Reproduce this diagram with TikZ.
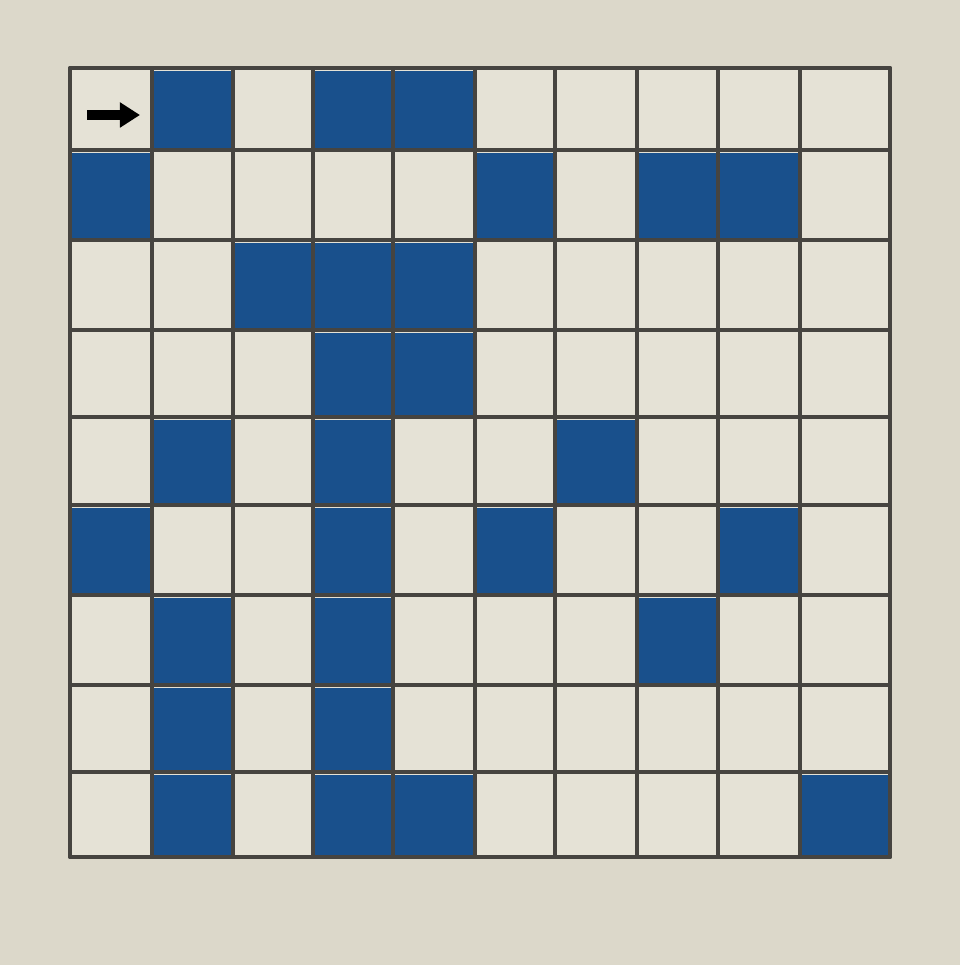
\documentclass[tikz,border=0pt]{standalone}
\usetikzlibrary{arrows.meta}
\definecolor{paper}{RGB}{220,216,202}
\definecolor{cellpaper}{RGB}{229,226,214}
\definecolor{tileblue}{RGB}{25,80,140}
\definecolor{gridgray}{RGB}{70,68,64}
\begin{document}
\begin{tikzpicture}[x=0.025cm,y=-0.025cm,
  gridline/.style={draw=gridgray,line width=2.7pt,line cap=round},
  tile/.style={fill=tileblue},
  pointer/.style={-{Triangle[length=0.5cm,width=0.6cm]},line width=6.5pt,black}]
\fill[paper] (0,0) rectangle (960,965);
\useasboundingbox (0,0) rectangle (960,965);
\fill[cellpaper] (70,68) rectangle (890,857);
\def\xs{{70,152,233,313,393,475,555,637,718,800,890}}
\def\ys{{68,150,240,330,417,505,595,685,772,857}}
% blue tiles (row/column)
\foreach \r/\c in {0/1,0/3,0/4,
  1/0,1/5,1/7,1/8,
  2/2,2/3,2/4,
  3/3,3/4,
  4/1,4/3,4/6,
  5/0,5/3,5/5,5/8,
  6/1,6/3,6/7,
  7/1,7/3,
  8/1,8/3,8/4,8/9} {
  \pgfmathsetmacro\xa{\xs[\c]+2}
  \pgfmathsetmacro\xb{\xs[\c+1]-2}
  \pgfmathsetmacro\ya{\ys[\r]+3}
  \pgfmathsetmacro\yb{\ys[\r+1]-2}
  \fill[tile] (\xa,\ya) rectangle (\xb,\yb);
}
% grid
\foreach \i in {0,...,10} {
  \pgfmathsetmacro\gx{\xs[\i]}
  \draw[gridline] (\gx,68) -- (\gx,857);
}
\foreach \j in {0,...,9} {
  \pgfmathsetmacro\gy{\ys[\j]}
  \draw[gridline] (70,\gy) -- (890,\gy);
}
% start arrow
\coordinate (start) at (87,115);
\coordinate (entry) at (140,115);
\draw[pointer] (start) -- (entry);
\end{tikzpicture}
\end{document}
